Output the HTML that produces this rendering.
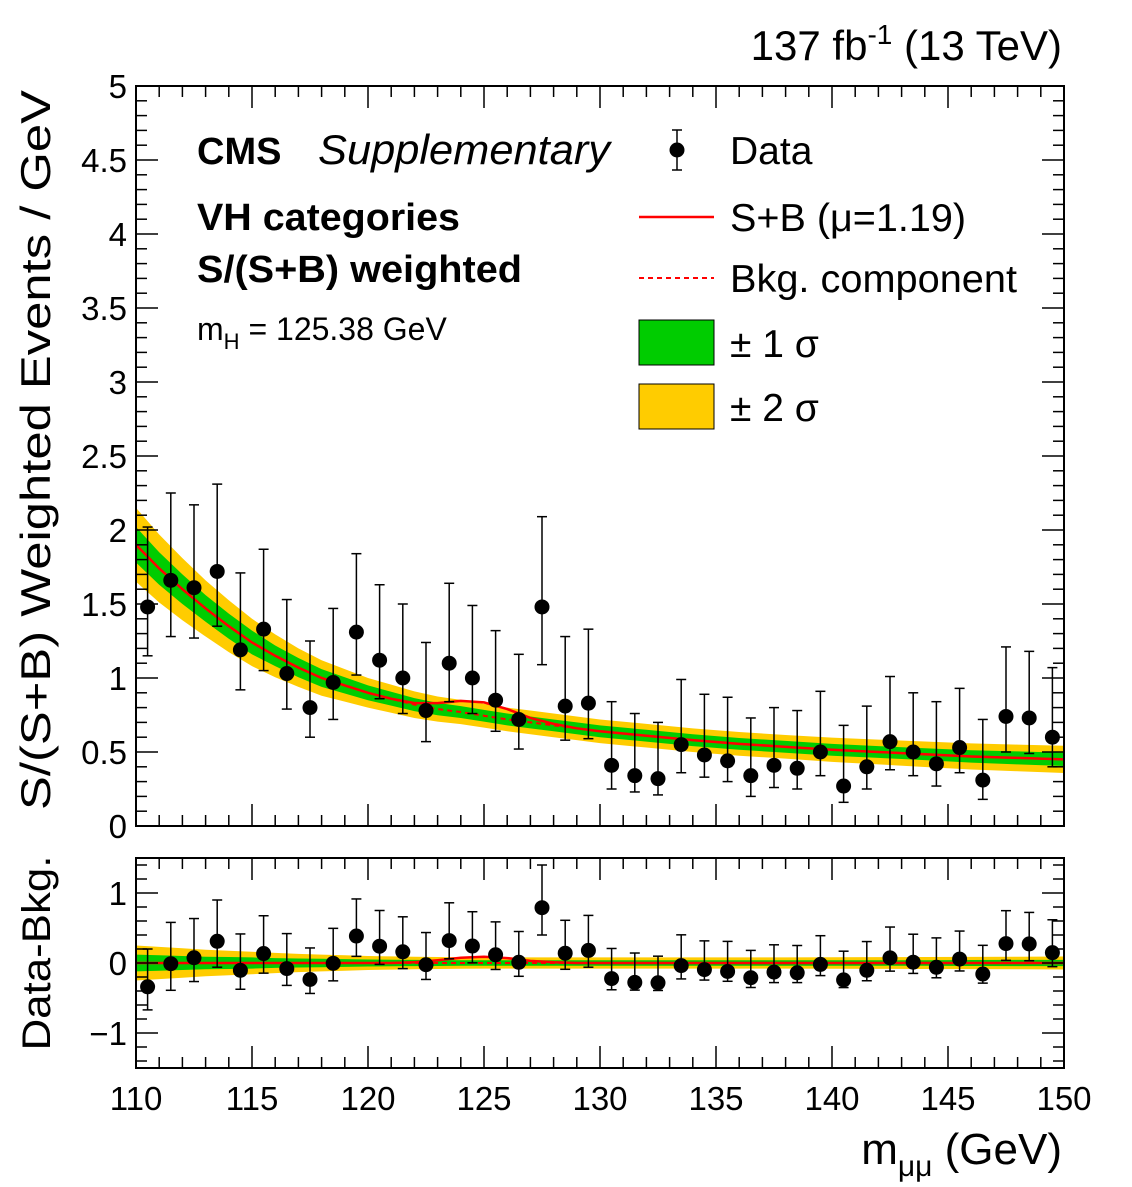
<!DOCTYPE html>
<html><head><meta charset="utf-8"><style>
body{margin:0;background:#fff}
svg text{font-family:"Liberation Sans",Arial,sans-serif}
</style></head><body>
<svg id="c" width="1132" height="1182" xmlns="http://www.w3.org/2000/svg"></svg>
<script>
const binCenters=[110.5,111.5,112.5,113.5,114.5,115.5,116.5,117.5,118.5,119.5,120.5,121.5,122.5,123.5,124.5,125.5,126.5,127.5,128.5,129.5,130.5,131.5,132.5,133.5,134.5,135.5,136.5,137.5,138.5,139.5,140.5,141.5,142.5,143.5,144.5,145.5,146.5,147.5,148.5,149.5];
const dataVals=[1.48,1.66,1.61,1.72,1.19,1.33,1.03,0.80,0.97,1.31,1.12,1.00,0.78,1.10,1.00,0.85,0.72,1.48,0.81,0.83,0.41,0.34,0.32,0.55,0.48,0.44,0.34,0.41,0.39,0.50,0.27,0.40,0.57,0.50,0.42,0.53,0.31,0.74,0.73,0.60];
const errLow=[1.15,1.28,1.27,1.35,0.92,1.05,0.79,0.60,0.72,1.02,0.86,0.76,0.57,0.84,0.76,0.64,0.52,1.09,0.58,0.59,0.25,0.23,0.21,0.36,0.33,0.30,0.20,0.26,0.25,0.34,0.16,0.25,0.38,0.34,0.27,0.36,0.18,0.50,0.49,0.40];
const errHigh=[2.02,2.25,2.17,2.31,1.71,1.87,1.53,1.25,1.47,1.84,1.63,1.50,1.24,1.64,1.49,1.32,1.16,2.09,1.28,1.33,0.84,0.76,0.70,0.99,0.89,0.87,0.73,0.80,0.78,0.91,0.68,0.81,1.01,0.90,0.84,0.93,0.72,1.21,1.18,1.07];
const curveX=[110,111,112,113,114,115,116,117,118,119,120,121,122,123,124,125,126,127,128,129,130,132,134,136,138,140,142,144,146,148,150];
const bkgVals=[1.90,1.74,1.60,1.47,1.35,1.24,1.15,1.07,1.00,0.95,0.90,0.86,0.82,0.79,0.77,0.745,0.72,0.70,0.68,0.66,0.64,0.61,0.58,0.555,0.535,0.515,0.50,0.485,0.47,0.46,0.45];
const sigVals=[0,0,0,0,0,0,0,0,0,0,0,0,0.01,0.04,0.075,0.09,0.07,0.03,0.01,0,0,0,0,0,0,0,0,0,0,0,0];
const band1=[0.12,0.11,0.10,0.09,0.085,0.08,0.07,0.065,0.06,0.055,0.05,0.047,0.044,0.042,0.04,0.04,0.04,0.04,0.04,0.04,0.04,0.04,0.04,0.04,0.04,0.04,0.04,0.04,0.042,0.044,0.045];
const band2=[0.25,0.23,0.21,0.19,0.175,0.16,0.145,0.13,0.12,0.11,0.10,0.095,0.09,0.085,0.082,0.08,0.08,0.08,0.08,0.08,0.08,0.08,0.08,0.08,0.08,0.082,0.084,0.086,0.088,0.09,0.092];
const xTicks=[110,115,120,125,130,135,140,145,150];
const yTicksTop=[0,0.5,1,1.5,2,2.5,3,3.5,4,4.5,5];
const yTicksBot=[-1,0,1];

const S=document.getElementById('c'),NS='http://www.w3.org/2000/svg';
function el(t,a,p){const e=document.createElementNS(NS,t);for(const k in a)e.setAttribute(k,a[k]);(p||S).appendChild(e);return e;}
const X0=136,X1=1064;
const sx=v=>X0+(v-110)/40*(X1-X0);
const T0=86,T1=826,syT=v=>T1-v/5*(T1-T0);
const B0=858,B1=1068,syB=v=>963-v*70;
function interp(arr,x){for(let i=0;i<curveX.length-1;i++){if(x<=curveX[i+1]){const f=(x-curveX[i])/(curveX[i+1]-curveX[i]);return arr[i]+f*(arr[i+1]-arr[i]);}}return arr[arr.length-1];}

function drawPanel(sy,lower,g){
  const cen=i=>lower?0:bkgVals[i];
  const poly=(w,fill,name)=>{let up=curveX.map((x,i)=>sx(x)+','+sy(cen(i)+w[i]));let dn=curveX.map((x,i)=>sx(x)+','+sy(cen(i)-w[i])).reverse();
    const p=el('polygon',{points:up.concat(dn).join(' '),fill:fill},g);};
  poly(band2,'#ffcc00','band-2sigma');poly(band1,'#00cc00','band-1sigma');
  const bk=el('polyline',{points:curveX.map((x,i)=>sx(x)+','+sy(cen(i))).join(' '),fill:'none',stroke:'#ff0000','stroke-width':2,'stroke-dasharray':'5,4'},g);
  
  const sb=el('polyline',{points:curveX.map((x,i)=>sx(x)+','+sy(cen(i)+sigVals[i])).join(' '),fill:'none',stroke:'#ff0000','stroke-width':2.5},g);
  
  binCenters.forEach((x,i)=>{const off=lower?interp(bkgVals,x):0;const cx=sx(x);
    const l=el('line',{x1:cx,x2:cx,y1:sy(errLow[i]-off),y2:sy(errHigh[i]-off),stroke:'#000','stroke-width':1.5},g);
    
    [errLow[i],errHigh[i]].forEach(v=>el('line',{x1:cx-5,x2:cx+5,y1:sy(v-off),y2:sy(v-off),stroke:'#000','stroke-width':1.5},g));
    const c=el('circle',{cx:cx,cy:sy(dataVals[i]-off),r:7.5,fill:'#000'},g);
    });
}
function frame(y0,y1,sy,yt,minorStep,ymin,ymax){
  el('rect',{x:X0,y:y0,width:X1-X0,height:y1-y0,fill:'none',stroke:'#000','stroke-width':2});
  for(let v=110;v<=150;v++){const L=(v%5==0)?22:11;const x=sx(v);
    el('line',{x1:x,x2:x,y1:y1,y2:y1-L,stroke:'#000','stroke-width':1.5});el('line',{x1:x,x2:x,y1:y0,y2:y0+L,stroke:'#000','stroke-width':1.5});}
  for(let k=Math.round(ymin/minorStep);k*minorStep<=ymax+1e-9;k++){const v=k*minorStep;const maj=yt.some(t=>Math.abs(t-v)<1e-6);const L=maj?22:11;const y=sy(v);
    if(y<y0-0.5||y>y1+0.5)continue;
    el('line',{x1:X0,x2:X0+L,y1:y,y2:y,stroke:'#000','stroke-width':1.5});el('line',{x1:X1,x2:X1-L,y1:y,y2:y,stroke:'#000','stroke-width':1.5});}
  yt.forEach(v=>{const t=el('text',{x:X0-9,y:sy(v)+12,'font-size':33,'text-anchor':'end'});t.textContent=(v<0?'\u2212'+(-v):v);
    });
}
const gT=el('g',{});
const cpT=el('clipPath',{id:'cpT'});el('rect',{x:X0,y:T0,width:X1-X0,height:T1-T0},cpT);gT.setAttribute('clip-path','url(#cpT)');
drawPanel(syT,false,gT);
frame(T0,T1,syT,yTicksTop,0.1,0,5);
const gB=el('g',{});
const cpB=el('clipPath',{id:'cpB'});el('rect',{x:X0,y:B0,width:X1-X0,height:B1-B0},cpB);gB.setAttribute('clip-path','url(#cpB)');
drawPanel(syB,true,gB);
frame(B0,B1,syB,yTicksBot,0.2,-1.6,1.6);
xTicks.forEach(v=>{const t=el('text',{x:sx(v),y:1110,'font-size':33,'text-anchor':'middle'});t.textContent=v;
  });
</script>
<svg width="1132" height="1182" style="position:absolute;left:0;top:0" xmlns="http://www.w3.org/2000/svg">
<text x="1062" y="60" font-size="42" text-anchor="end" style="font-family:'Liberation Sans',sans-serif">137 fb<tspan dy="-16" font-size="28">-1</tspan><tspan dy="16"> (13 TeV)</tspan></text>
<text x="1062" y="1164" font-size="44" text-anchor="end" style="font-family:'Liberation Sans',sans-serif">m<tspan dy="12" font-size="30">μμ</tspan><tspan dy="-12"> (GeV)</tspan></text>
<text transform="translate(50,450) rotate(-90)" font-size="42" text-anchor="middle" textLength="720" lengthAdjust="spacingAndGlyphs" style="font-family:'Liberation Sans',sans-serif">S/(S+B) Weighted Events / GeV</text>
<text transform="translate(50,953) rotate(-90)" font-size="40" text-anchor="middle" textLength="195" lengthAdjust="spacingAndGlyphs" style="font-family:'Liberation Sans',sans-serif">Data-Bkg.</text>
<g style="font-family:'Liberation Sans',sans-serif">
<text x="197" y="164" font-size="38" font-weight="bold">CMS</text>
<text x="318" y="164" font-size="42" font-style="italic" textLength="292" lengthAdjust="spacingAndGlyphs">Supplementary</text>
<text x="197" y="230" font-size="38" font-weight="bold" textLength="263" lengthAdjust="spacingAndGlyphs">VH categories</text>
<text x="197" y="282" font-size="38" font-weight="bold" textLength="325" lengthAdjust="spacingAndGlyphs">S/(S+B) weighted</text>
<text x="197" y="340" font-size="32">m<tspan dy="9" font-size="22">H</tspan><tspan dy="-9"> = 125.38 GeV</tspan></text>
</g>
<g style="font-family:'Liberation Sans',sans-serif" font-size="39">
<line x1="677" y1="130" x2="677" y2="170" stroke="#000" stroke-width="1.5"/><line x1="672" y1="130" x2="682" y2="130" stroke="#000" stroke-width="1.5"/><line x1="672" y1="170" x2="682" y2="170" stroke="#000" stroke-width="1.5"/>
<circle cx="677" cy="150" r="7.5" fill="#000"/>
<text x="730" y="164">Data</text>
<line x1="639" y1="217" x2="714" y2="217" stroke="#f00" stroke-width="2.5"/>
<text x="730" y="231" textLength="236" lengthAdjust="spacingAndGlyphs">S+B (μ=1.19)</text>
<line x1="639" y1="278" x2="714" y2="278" stroke="#f00" stroke-width="2" stroke-dasharray="5,4"/>
<text x="730" y="292" textLength="287" lengthAdjust="spacingAndGlyphs">Bkg. component</text>
<rect x="639" y="320" width="75" height="45" fill="#00cc00" stroke="#000" stroke-width="1"/>
<text x="730" y="357">± 1 σ</text>
<rect x="639" y="384" width="75" height="45" fill="#ffcc00" stroke="#000" stroke-width="1"/>
<text x="730" y="421">± 2 σ</text>
</g>
</svg>
</body></html>
